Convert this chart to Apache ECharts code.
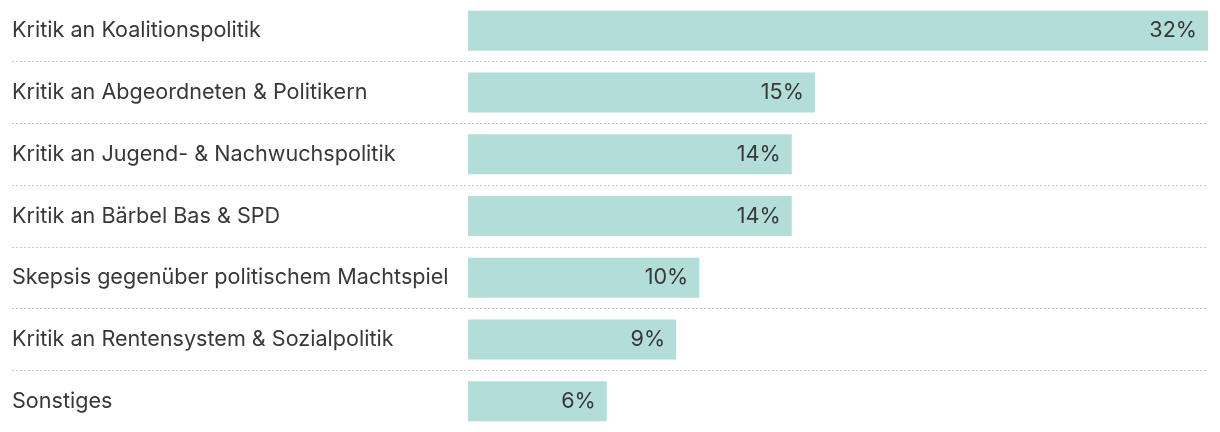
<!DOCTYPE html>
<html>
<head>
<meta charset="utf-8">
<script src="https://cdn.jsdelivr.net/npm/echarts@6/dist/echarts.min.js"></script>
<style>
html,body{margin:0;padding:0;background:#fff;}
#chart{width:1220px;height:432px;}
</style>
</head>
<body>
<div id="chart"></div>
<script>
const categories = [
  "Kritik an Koalitionspolitik",
  "Kritik an Abgeordneten & Politikern",
  "Kritik an Jugend- & Nachwuchspolitik",
  "Kritik an Bärbel Bas & SPD",
  "Skepsis gegenüber politischem Machtspiel",
  "Kritik an Rentensystem & Sozialpolitik",
  "Sonstiges"
];
const values = [32, 15, 14, 14, 10, 9, 6];

const chart = echarts.init(document.getElementById('chart'), null, {renderer: 'canvas'});
const font = 'Inter, "Noto Sans", sans-serif';
chart.setOption({
  animation: false,
  grid: [
    {left: 12, right: 12, top: -1, bottom: -1},
    {left: 468, right: 12, top: -1, bottom: -1}
  ],
  xAxis: [
    {gridIndex: 0, type: 'value', min: 0, max: 1, show: false},
    {gridIndex: 1, type: 'value', min: 0, max: 32, show: false}
  ],
  yAxis: [
    {
      gridIndex: 0, type: 'category', data: categories, inverse: true,
      axisLine: {show: false}, axisTick: {show: false},
      axisLabel: {inside: true, margin: 0, align: 'left', color: '#383838', fontSize: 21.6, fontWeight: 400, fontFamily: font},
      splitLine: {show: true, showMinLine: false, showMaxLine: false, lineStyle: {color: '#c8c8c8', type: [2, 2], width: 1}}
    },
    {
      gridIndex: 1, type: 'category', data: categories, inverse: true,
      axisLine: {show: false}, axisTick: {show: false}, axisLabel: {show: false},
      splitLine: {show: false}
    }
  ],
  series: [{
    type: 'bar',
    xAxisIndex: 1, yAxisIndex: 1,
    data: values,
    barWidth: 40,
    itemStyle: {color: '#b2ddd8'},
    label: {
      show: true, position: 'insideRight', distance: 11,
      formatter: '{c}%', color: '#383838', fontSize: 21.6, fontWeight: 400, fontFamily: font
    }
  }]
});
</script>
</body>
</html>
